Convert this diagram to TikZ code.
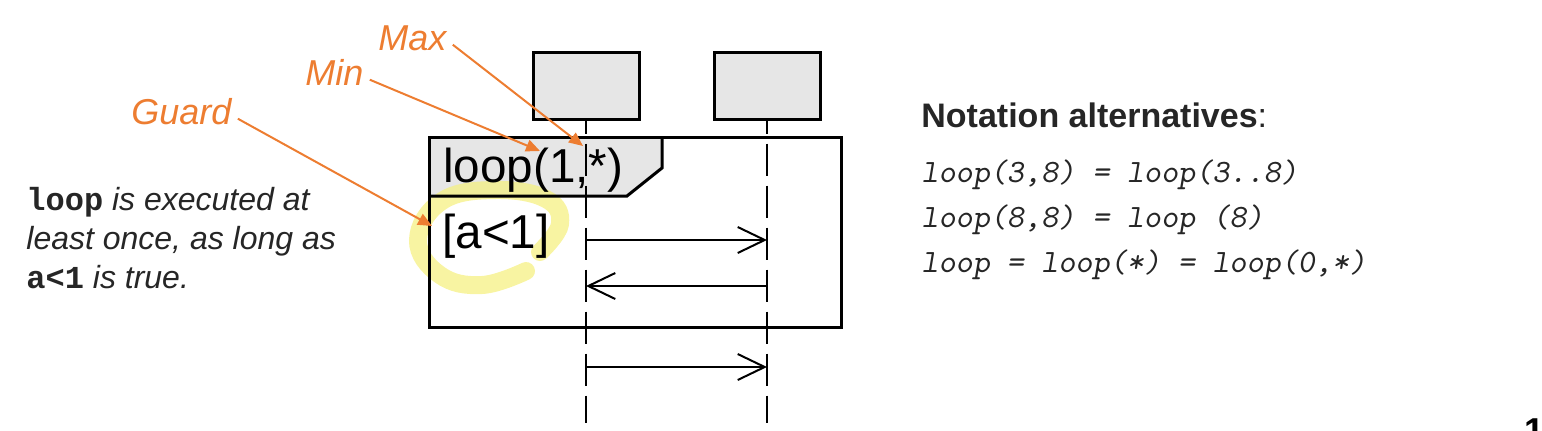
\documentclass[tikz,border=0pt]{standalone}
\usepackage{fontspec}
\setmainfont{Liberation Sans}
\newfontfamily\codefont{Liberation Mono}
\usetikzlibrary{arrows.meta,positioning,calc}
\definecolor{ink}{HTML}{262626}
\definecolor{callout}{HTML}{ED7D31}
\definecolor{headgray}{HTML}{E6E6E6}
\definecolor{marker}{HTML}{F5F07A}

\tikzset{
  objbox/.style={draw=black, fill=headgray, line width=1.5pt,
    minimum width=53pt, minimum height=33.5pt, inner sep=0pt},
  lifeline/.style={line width=1.2pt, dash pattern=on 16pt off 5pt, dash phase=9.5pt},
  frameline/.style={line width=1.5pt, line join=miter},
  msg/.style={line width=1pt, -{Straight Barb[length=13.5pt,width=13pt,line width=1pt]}},
  calloutlbl/.style={text=callout, font=\fontsize{18}{21}\selectfont\itshape,
    inner sep=3pt, anchor=base west},
  calloutarr/.style={draw=callout, line width=1pt, -{Triangle[length=7pt,width=6pt]}},
  fragtext/.style={inner sep=0pt, anchor=base west, font=\fontsize{23.8}{28}\selectfont},
  notetext/.style={inner sep=0pt, anchor=base west, text=ink,
    font=\fontsize{16}{19.5}\selectfont\itshape},
  alttext/.style={inner sep=0pt, anchor=base west, text=ink,
    font=\ttfamily\slshape\fontsize{16.3}{22}\selectfont}
}
\newcommand{\codebold}[1]{{\codefont\bfseries\upshape #1}}

\begin{document}
\begin{tikzpicture}[x=0.5pt,y=-0.5pt]
  \useasboundingbox (0,0) rectangle (1542,430);

  % lifeline heads
  \node[objbox] (objA) at (586,85.5) {};
  \node[objbox] (objB) at (767,85.5) {};

  % loop fragment: tab fill, highlight, then the outlines
  \fill[headgray] (429,137) -- (662,137) -- (662,168) -- (627,196) -- (429,196) -- cycle;
  \draw[marker, opacity=0.7, line width=9pt, line cap=round]
    plot[smooth, tension=0.7] coordinates {(540,252) (560,224) (546,199) (495,190)
      (442,201) (418,240) (440,275) (482,285) (526,271)};
  \draw[frameline] (429,137) rectangle (841,327);
  \draw[frameline] (429,196) -- (627,196) -- (662,168) -- (662,137);

  \node[fragtext] (looplbl) at (443,182) {loop(1,*)};
  \node[fragtext] (guard) at (442,248) {[a<1]};

  % lifelines
  \coordinate (objA-end) at (586,423);
  \coordinate (objB-end) at (767,423);
  \draw[lifeline] (objA.south) -- (objA-end);
  \draw[lifeline] (objB.south) -- (objB-end);

  % messages
  \coordinate (call1-from) at (586,240);
  \coordinate (call1-to) at (767,240);
  \coordinate (reply-from) at (767,286);
  \coordinate (reply-to) at (586,286);
  \coordinate (call2-from) at (586,367);
  \coordinate (call2-to) at (767,367);
  \draw[msg] (call1-from) -- (call1-to);
  \draw[msg] (reply-from) -- (reply-to);
  \draw[msg] (call2-from) -- (call2-to);

  % callouts
  \node[calloutlbl] (maxlbl) at (372,50) {Max};
  \node[calloutlbl] (minlbl) at (299,85) {Min};
  \node[calloutlbl] (guardlbl) at (125,124) {Guard};
  \coordinate (maxtip) at (583,146);
  \coordinate (mintip) at (540,151);
  \coordinate (guardtip) at (432,226);
  \draw[calloutarr] (maxlbl.mid east) -- (maxtip);
  \draw[calloutarr] (minlbl.mid east) -- (mintip);
  \draw[calloutarr] (guardlbl.mid east) -- (guardtip);

  % note on the left
  \node[notetext] (note1) at (26,210) {\codebold{loop} is executed at};
  \node[notetext] (note2) at (26,249) {least once, as long as};
  \node[notetext] (note3) at (26,288) {\codebold{a<1} is true.};

  % notation alternatives
  \node[inner sep=0pt, anchor=base west, text=ink, font=\fontsize{17}{20}\selectfont]
    (alttitle) at (921,127) {\textbf{Notation alternatives}:};
  \node[alttext] (alt1) at (921,182) {loop(3,8) = loop(3..8)};
  \node[alttext] (alt2) at (921,227) {loop(8,8) = loop (8)};
  \node[alttext] (alt3) at (921,272) {loop = loop(*) = loop(0,*)};

  % page number, cut by the page edge
  \node[inner sep=0pt, anchor=base west, font=\fontsize{18}{20}\selectfont\bfseries]
    (pageno) at (1524,443) {1};
\end{tikzpicture}
\end{document}
